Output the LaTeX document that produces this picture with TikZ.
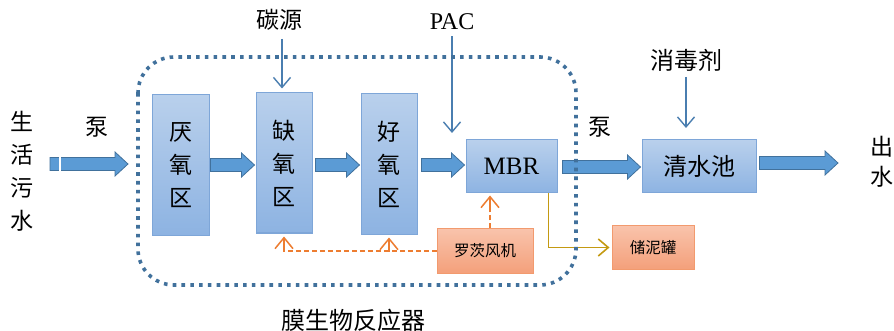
\documentclass[tikz,border=0pt]{standalone}
\usepackage{fontspec}
\setmainfont{Liberation Serif}
\newfontfamily\cjk{Noto Sans CJK SC}
\usetikzlibrary{calc,arrows.meta}
\definecolor{boxtop}{HTML}{B9D0EC}
\definecolor{boxbot}{HTML}{8DB3E2}
\definecolor{boxline}{HTML}{7EA6D8}
\definecolor{arrfill}{HTML}{5B9BD5}
\definecolor{arrline}{HTML}{41719C}
\definecolor{orgtop}{HTML}{F9C3AB}
\definecolor{orgbot}{HTML}{F4A07B}
\definecolor{orgline}{HTML}{F29A6E}
\definecolor{orgdash}{HTML}{ED7D31}
\definecolor{goldc}{HTML}{C49A12}
\definecolor{dotc}{HTML}{41719C}
\definecolor{thinc}{HTML}{4A7EB0}
\tikzset{
  proc/.style={draw=boxline, line width=1pt, top color=boxtop, bottom color=boxbot, inner sep=0pt, align=center},
  orgbox/.style={draw=orgline, line width=1pt, top color=orgtop, bottom color=orgbot, inner sep=0pt, align=center},
  barrow/.style={draw=arrline, fill=arrfill, line width=0.8pt, line join=miter},
  thinarr/.style={draw=thinc, line width=1.4pt, -{Straight Barb[length=10pt,width=17pt,line width=1.4pt]}},
  orgarr/.style={draw=orgdash, line width=1.5pt, dash pattern=on 5pt off 3pt},
  orgtip/.style={draw=orgdash, line width=1.5pt, -{Straight Barb[length=11pt,width=18pt,line width=1.5pt]}},
  goldarr/.style={draw=goldc, line width=1.6pt, -{Straight Barb[length=10pt,width=17pt,line width=1.6pt]}},
  dotb/.style={draw=dotc, line width=3.6pt, dash pattern=on 3.6pt off 5.2pt},
  lbl/.style={inner sep=0pt, text=black, align=center},
  cjkbig/.style={font=\cjk\fontsize{23}{33}\selectfont},
}
\newcommand\blockarrow[2]{%
  \draw[barrow] let \p1=#1, \p2=#2 in
    (\x1,\y1+6.5pt) -- (\x2-13pt,\y1+6.5pt) -- (\x2-13pt,\y1+12pt) -- (\x2,\y1)
    -- (\x2-13pt,\y1-12pt) -- (\x2-13pt,\y1-6.5pt) -- (\x1,\y1-6.5pt) -- cycle;}
\begin{document}
\begin{tikzpicture}[x=1pt,y=-1pt]
\useasboundingbox[fill=white] (0,0) rectangle (894,331);
% process boxes
\node[proc, cjkbig, minimum width=57pt, minimum height=140pt] (yan) at (180.5,165) {厌\\氧\\区};
\node[proc, cjkbig, minimum width=56pt, minimum height=140pt] (que) at (284,163) {缺\\氧\\区};
\node[proc, cjkbig, minimum width=56pt, minimum height=140pt] (hao) at (389,164) {好\\氧\\区};
\node[proc, font=\fontsize{25}{28}\selectfont, minimum width=91pt, minimum height=53pt] (mbr) at (511.5,166.5) {MBR};
\node[proc, font=\cjk\fontsize{24}{28}\selectfont, minimum width=114pt, minimum height=53pt] (qing) at (699,166.5) {清水池};
\node[orgbox, font=\cjk\fontsize{15.5}{18}\selectfont, minimum width=96pt, minimum height=44pt] (roots) at (485,251) {罗茨风机};
\node[orgbox, font=\cjk\fontsize{15.5}{18}\selectfont, minimum width=82pt, minimum height=43pt] (sludge) at (653,247.5) {储泥罐};
% labels
\node[lbl, cjkbig] (raw) at (22,171) {生\\活\\污\\水};
\node[lbl, cjkbig] (pump1) at (97,127) {泵};
\node[lbl, cjkbig] (pump2) at (600,127) {泵};
\node[lbl, cjkbig] (carbon) at (279,20) {碳源};
\node[lbl, font=\fontsize{24}{26}\selectfont] (pac) at (452,22) {PAC};
\node[lbl, font=\cjk\fontsize{24}{26}\selectfont] (dis) at (686,60) {消毒剂};
\node[lbl, font=\cjk\fontsize{23}{30}\selectfont] (out) at (882,162) {出\\水};
\node[lbl, font=\cjk\fontsize{24}{26}\selectfont] (mbrlbl) at (353,320) {膜生物反应器};
% coordinates
\coordinate (inS) at (50,164);
\coordinate (inE) at (128,164);
\coordinate (outE) at (838,163);
\coordinate (pacE) at (452,133);
\coordinate (disS) at (686,77);
\coordinate (disE) at (686,128);
\coordinate (mbrB) at ($(mbr.south)+(-21.5,2)$);
\coordinate (queB) at ($(que.south)+(0,3)$);
\coordinate (haoB) at ($(hao.south)+(0,3)$);
\coordinate (rootsN) at ($(roots.north)+(5,0)$);
\coordinate (haoJ) at (hao.south |- roots.west);
\coordinate (queJ) at (que.south |- roots.west);
% block arrows
\blockarrow{(inS)}{(inE)}
\draw[white, line width=1.2pt] (60,157) -- (60,171);
\blockarrow{($(yan.east)+(1,0)$)}{($(que.west)+(-1,2)$)}
\blockarrow{($(que.east)+(3,2)$)}{($(hao.west)+(-1,1)$)}
\blockarrow{($(hao.east)+(4,1)$)}{($(mbr.west)+(-1,-1.5)$)}
\blockarrow{($(mbr.east)+(5,0.5)$)}{($(qing.west)+(-1,0.5)$)}
\blockarrow{($(qing.east)+(3,-3.5)$)}{(outE)}
% thin arrows
\draw[thinarr] ($(carbon.south)+(3,8)$) -- ($(que.north)+(-2,-4)$);
\draw[thinarr] ($(pac.south)+(0,6)$) -- (pacE);
\draw[thinarr] (disS) -- (disE);
% blower (dashed lines, solid arrow tips)
\draw[orgarr] (rootsN) -- ($(mbrB)+(0,12)$);
\draw[orgarr] (roots.west) -- (queJ) -- ($(queB)+(0,12)$);
\draw[orgarr] (haoJ) -- ($(haoB)+(0,12)$);
\draw[orgtip] ($(mbrB)+(0,14)$) -- (mbrB);
\draw[orgtip] ($(queB)+(0,14)$) -- (queB);
\draw[orgtip] ($(haoB)+(0,14)$) -- (haoB);
% sludge
\draw[goldarr] ($(mbr.south east)+(-9,0)$) |- ($(sludge.west)+(-2,0)$);
% reactor border
\draw[dotb, rounded corners=36pt] (138,57) rectangle (576,285);
\end{tikzpicture}
\end{document}
